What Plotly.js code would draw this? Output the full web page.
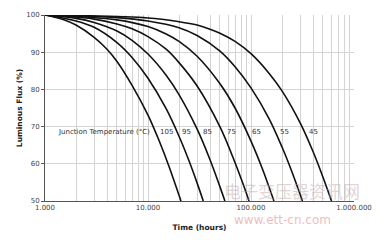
<!DOCTYPE html>
<html>
<head>
<meta charset="utf-8">
<script src="https://cdn.plot.ly/plotly-3.0.1.min.js"></script>
<style>html,body{margin:0;padding:0;background:#fff;}#chart{width:384px;height:240px;}</style>
</head>
<body>
<div id="chart"></div>
<script>
// Junction temperatures (°C)
const temps = [105, 95, 85, 75, 65, 55, 45];

// Hours (x) and luminous flux (%), one pair per curve
const hours105 = [1000, 1500, 2000, 3000, 4000, 5000, 7000, 10000, 13000, 16000, 20900];
const flux105  = [100, 98.8, 97.3, 94.0, 90.8, 87.5, 81.1, 73.1, 65.8, 59.3, 50];

const hours95 = [1000, 2000, 3000, 5000, 7000, 10000, 15000, 20000, 25000, 30000, 34400];
const flux95  = [100, 98.4, 96.7, 92.6, 88.6, 83.0, 74.8, 67.4, 60.8, 54.8, 50];

const hours85 = [1000, 2000, 3000, 5000, 7000, 10000, 15000, 20000, 30000, 40000, 50000, 55800];
const flux85  = [100, 99.1, 98.0, 95.7, 93.2, 89.5, 83.8, 78.6, 69.3, 61.1, 53.8, 50];

const hours75 = [1000, 3000, 5000, 7000, 10000, 15000, 20000, 30000, 50000, 70000, 85000, 95700];
const flux75  = [100, 98.9, 97.6, 96.3, 94.2, 90.8, 87.2, 80.9, 69.9, 60.3, 54.1, 50];

const hours65 = [1000, 5000, 10000, 15000, 20000, 30000, 50000, 70000, 100000, 130000, 167000];
const flux65  = [100, 98.7, 96.9, 94.9, 92.9, 88.9, 81.5, 75.0, 66.1, 58.4, 50];

const hours55 = [1000, 5000, 10000, 20000, 30000, 50000, 70000, 100000, 150000, 200000, 250000, 316000];
const flux55  = [100, 99.3, 98.4, 96.6, 94.5, 90.3, 86.1, 80.4, 72.1, 64.5, 57.8, 50];

const hours45 = [1000, 10000, 20000, 30000, 40000, 50000, 70000, 100000, 150000, 200000, 300000, 400000, 500000, 605000];
const flux45  = [100, 99.2, 98.2, 97.3, 96.2, 95.1, 92.9, 89.6, 84.3, 79.6, 71.0, 63.3, 56.4, 50];

// Axis tick labels
const xTickValues = [1000, 10000, 100000, 1000000];
const xTickLabels = ["1.000", "10.000", "100.000", "1.000.000"];
const yTickValues = [50, 60, 70, 80, 90, 100];

const labelFlux = 68.5;   // level at which the temperature labels sit

const seriesHours = [hours105, hours95, hours85, hours75, hours65, hours55, hours45];
const seriesFlux  = [flux105, flux95, flux85, flux75, flux65, flux55, flux45];

const traces = temps.map((t, i) => ({
  x: seriesHours[i], y: seriesFlux[i], type: 'scatter', mode: 'lines',
  name: t + ' °C',
  line: {color: '#111111', width: 1.6, shape: 'spline', smoothing: 1},
  hoverinfo: 'skip', showlegend: false
}));

// log10 of the hour where a curve crosses a flux level
function crossLog(h, f, level) {
  for (let k = 0; k < f.length - 1; k++) {
    if (f[k] >= level && f[k + 1] <= level) {
      const a = Math.log10(h[k]), b = Math.log10(h[k + 1]);
      const r = (f[k] - level) / (f[k] - f[k + 1]);
      return a + r * (b - a);
    }
  }
  return Math.log10(h[h.length - 1]);
}

// grid tick values: 1..9 per decade
const gridVals = [], gridText = [];
for (let d = 3; d <= 6; d++) {
  for (let m = 1; m <= 9; m++) {
    const v = m * Math.pow(10, d);
    if (v > 1000000) break;
    gridVals.push(v);
    const idx = xTickValues.indexOf(v);
    gridText.push(idx >= 0 ? xTickLabels[idx] : '');
  }
}

const annotations = temps.map((t, i) => ({
  x: crossLog(seriesHours[i], seriesFlux[i], labelFlux), y: labelFlux,
  xref: 'x', yref: 'y', text: String(t), showarrow: false,
  xanchor: 'left', yanchor: 'middle', xshift: 3,
  font: {family: 'DejaVu Sans', size: 7, color: '#333333'}
}));
annotations.push({
  x: crossLog(hours105, flux105, labelFlux), y: labelFlux, xref: 'x', yref: 'y',
  text: 'Junction Temperature (°C)', showarrow: false,
  xanchor: 'right', yanchor: 'middle', xshift: -3,
  font: {family: 'DejaVu Sans', size: 7, color: '#333333'}
});
// watermark
annotations.push({
  x: 0.80, y: 0.055, xref: 'paper', yref: 'paper', text: '电子变压器资讯网',
  showarrow: false, xanchor: 'center', yanchor: 'middle',
  font: {family: 'Noto Sans CJK SC', size: 17, color: 'rgba(185,160,160,0.45)'}
});
annotations.push({
  x: 0.77, y: -0.10, xref: 'paper', yref: 'paper', text: 'www.ett-cn.com',
  showarrow: false, xanchor: 'center', yanchor: 'middle',
  font: {family: 'DejaVu Sans', size: 12, color: 'rgba(225,120,120,0.5)'}
});

const layout = {
  width: 384, height: 240,
  margin: {l: 45, r: 30, t: 15, b: 39},
  paper_bgcolor: '#ffffff', plot_bgcolor: '#ffffff',
  font: {family: 'DejaVu Sans', size: 7, color: '#444444'},
  xaxis: {
    type: 'log', range: [3, 6],
    tickmode: 'array', tickvals: gridVals, ticktext: gridText,
    showgrid: true, gridcolor: '#d4d4d4', gridwidth: 1,
    showline: true, linecolor: '#555555', linewidth: 1,
    ticks: '', zeroline: false,
    tickfont: {family: 'DejaVu Sans', size: 7, color: '#444444'},
    title: {text: 'Time (hours)', standoff: 13, font: {family: 'DejaVu Sans', size: 7.5, color: '#222222', weight: 'bold'}}
  },
  yaxis: {
    range: [50, 100], tickmode: 'array', tickvals: yTickValues,
    showgrid: true, gridcolor: '#d4d4d4', gridwidth: 1,
    showline: true, linecolor: '#555555', linewidth: 1,
    ticks: 'outside', ticklen: 3, tickcolor: '#555555', zeroline: false,
    tickfont: {family: 'DejaVu Sans', size: 7, color: '#444444'},
    title: {text: 'Luminous Flux (%)', standoff: 2, font: {family: 'DejaVu Sans', size: 7.5, color: '#222222', weight: 'bold'}}
  },
  annotations: annotations,
  showlegend: false
};

Plotly.newPlot('chart', traces, layout, {staticPlot: true, displayModeBar: false});
</script>
</body>
</html>
